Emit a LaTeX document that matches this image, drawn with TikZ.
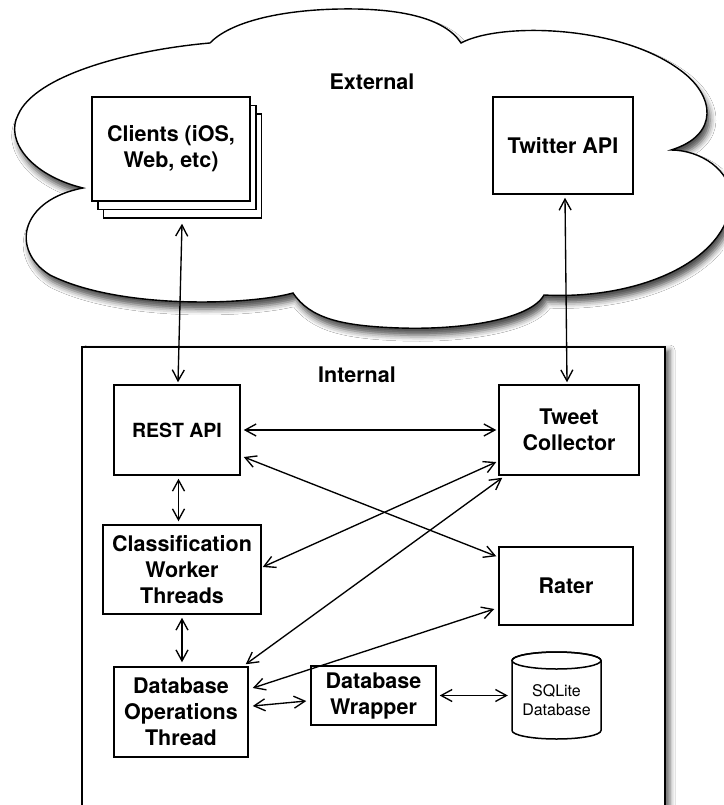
\documentclass[tikz,border=0pt]{standalone}
\usepackage{fontspec}
\setmainfont{TeX Gyre Heros}
\usetikzlibrary{arrows.meta,calc,shadows.blur}
\begin{document}
\begin{tikzpicture}[x=1pt,y=-1pt,
  box/.style={draw, line width=1.5pt, fill=white, inner sep=0pt, align=center,
              font=\fontsize{21.5}{26}\selectfont\bfseries},
  lbl/.style={inner sep=0pt, font=\fontsize{21.5}{26}\selectfont\bfseries},
  conn/.style={line width=1.35pt,
     {Straight Barb[length=11pt,width=12pt]}-{Straight Barb[length=11pt,width=12pt]}},
  cloudsty/.style={draw, line width=1.4pt, fill=white,
     blur shadow={shadow xshift=3pt, shadow yshift=-7pt, shadow blur radius=6pt, shadow opacity=70}},
  framesty/.style={draw, line width=1.5pt, fill=white,
     blur shadow={shadow xshift=5pt, shadow yshift=-3pt, shadow blur radius=5pt, shadow opacity=60}}
]
\useasboundingbox (0,0) rectangle (723,805);
\fill[white] (0,0) rectangle (723,805);

% cloud
\path[cloudsty] (210,43) .. controls (230,22) and (280,10) .. (340,9)
 .. controls (400,8) and (445,18) .. (461,43)
 .. controls (500,22) and (620,25) .. (680,70)
 .. controls (715,95) and (720,135) .. (671,150)
 .. controls (700,150) and (732,170) .. (731,200)
 .. controls (728,260) and (640,300) .. (544,295)
 .. controls (530,320) and (460,330) .. (400,328)
 .. controls (340,326) and (310,318) .. (293,293)
 .. controls (250,305) and (120,310) .. (50,275)
 .. controls (10,250) and (20,200) .. (83,188)
 .. controls (30,175) and (5,140) .. (18,115)
 .. controls (35,75) and (130,50) .. (210,43) -- cycle;

% internal frame
\path[framesty] (82,347) rectangle (665,850);

% labels
\node[lbl] (ext) at (372,82) {External};
\node[lbl] (int) at (357,375) {Internal};

% external nodes
\node[box, minimum width=158, minimum height=104] (clientsback) at (182.5,166) {};
\node[box, minimum width=158, minimum height=104] (clientsmid) at (177,157.5) {};
\node[box, minimum width=158, minimum height=104] (clients) at (171,149) {Clients (iOS,\\Web, etc)};
\node[box, minimum width=140, minimum height=97] (twitter) at (563,145.5) {Twitter API};

% internal nodes
\node[box, minimum width=126, minimum height=90, font=\fontsize{19.5}{24}\selectfont\bfseries] (rest) at (177,430) {REST API};
\node[box, minimum width=140, minimum height=90] (tweet) at (569,430) {Tweet\\Collector};
\node[box, minimum width=158, minimum height=89] (classif) at (182,569.5) {Classification\\Worker\\Threads};
\node[box, minimum width=134, minimum height=78] (rater) at (566,586) {Rater};
\node[box, minimum width=134, minimum height=90] (dbops) at (181,712) {Database\\Operations\\Thread};
\node[box, minimum width=125, minimum height=59] (wrapper) at (373.5,695.5) {Database\\Wrapper};

% SQLite cylinder
\draw[line width=1.5pt, fill=white] (512,660.5) -- (512,730.5)
  arc[start angle=180, end angle=0, x radius=44.5, y radius=8.5]
  -- (601,660.5)
  arc[start angle=0, end angle=-180, x radius=44.5, y radius=8.5] -- cycle;
\draw[line width=1.5pt] (556.5,660.5) ellipse[x radius=44.5, y radius=8.5];
\node[inner sep=0pt, minimum width=89, minimum height=87, align=center,
      font=\fontsize{16}{19}\selectfont] (sqlite) at (556.5,700) {SQLite\\Database};

% connectors
\draw[conn] ($(clientsback.south)+(-0.5,5)$) -- ($(rest.north)+(1,-2)$);
\draw[conn] ($(twitter.south)+(2,3)$) -- ($(tweet.north)+(-2,-2)$);
\draw[conn] ($(rest.east)+(3,0)$) -- ($(tweet.west)+(-2,0)$);
\draw[conn] ($(rest.east)+(3,27)$) -- ($(rater.north west)+(-2,10)$);
\draw[conn] ($(tweet.west)+(-2,32)$) -- ($(classif.east)+(1,-2.5)$);
\draw[conn] ($(tweet.south west)+(4,2)$) -- ($(dbops.north east)+(-3,-2)$);
\draw[conn] ($(rest.south)+(1.5,3)$) -- ($(classif.north)+(-3.5,-3)$);
\draw[conn] ($(classif.south)+(0,3)$) -- ($(dbops.north)+(1,-4)$);
\draw[conn] ($(rater.west)+(-4,23)$) -- ($(dbops.east)+(4,-24)$);
\draw[conn] ($(dbops.east)+(4,-6)$) -- ($(wrapper.west)+(-4,5.5)$);
\draw[conn] ($(wrapper.east)+(3,0)$) -- ($(sqlite.west)+(-4,-4.5)$);
\end{tikzpicture}
\end{document}
